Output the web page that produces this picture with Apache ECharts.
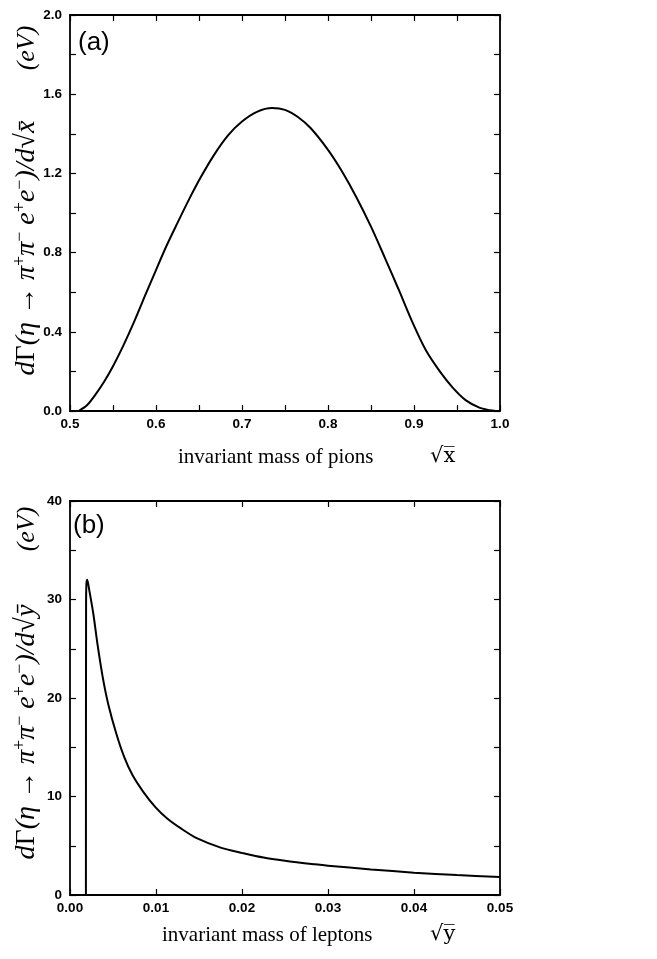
<!DOCTYPE html>
<html>
<head>
<meta charset="utf-8">
<script src="https://cdn.jsdelivr.net/npm/echarts@6/dist/echarts.min.js"></script>
<style>html,body{margin:0;padding:0;background:#fff}#c{width:657px;height:959px}</style>
</head>
<body>
<div id="c"></div>
<script>
// Panel (a): invariant mass of pions sqrt(x) vs dGamma/dsqrt(x) (eV)
const xA = [0.510,0.520,0.530,0.540,0.550,0.562,0.575,0.588,0.600,0.612,0.625,0.638,0.652,0.667,0.684,0.700,0.718,0.735,0.750,0.765,0.780,0.800,0.816,0.833,0.850,0.866,0.882,0.898,0.914,0.930,0.945,0.960,0.976,0.988,0.995];
const yA = [0,0.030,0.085,0.150,0.226,0.330,0.455,0.590,0.712,0.832,0.950,1.065,1.180,1.290,1.393,1.462,1.512,1.530,1.521,1.485,1.428,1.319,1.212,1.080,0.931,0.775,0.615,0.450,0.305,0.200,0.118,0.055,0.017,0.004,0];
// Panel (b): invariant mass of leptons sqrt(y) vs dGamma/dsqrt(y) (eV)
const xB = [0.00185,0.00187,0.00191,0.00200,0.00225,0.00272,0.00319,0.00381,0.00444,0.00538,0.00631,0.00725,0.0085,0.0099,0.0113,0.0129,0.0148,0.0176,0.0201,0.0225,0.025,0.0285,0.030,0.035,0.040,0.045,0.050];
const yB = [0,29.5,31.6,32,30.9,28.5,25.5,22.1,19.4,16.4,14.0,12.2,10.5,8.95,7.77,6.76,5.74,4.78,4.25,3.8,3.48,3.11,2.97,2.6,2.27,2.03,1.82];
const xTickDecimalsA = 1, yTickDecimalsA = 1, xTickDecimalsB = 2, yTickDecimalsB = 0;

const chart = echarts.init(document.getElementById('c'), null, {renderer:'canvas'});
const lineC = '#000';
function ax(o){
  return Object.assign({
    type:'value',
    axisLine:{show:true,onZero:false,lineStyle:{color:lineC,width:1.8}},
    axisTick:{show:true,inside:true,length:6,lineStyle:{color:lineC,width:1.2}},
    minorTick:{show:false},
    splitLine:{show:false},
    axisLabel:{show:false}
  }, o);
}
const lbl = (d, extra) => Object.assign({show:true,color:'#000',fontFamily:'Liberation Sans',fontWeight:'bold',fontSize:13.5,formatter:v=>v.toFixed(d)}, extra||{});
const minor = {show:true,splitNumber:2,length:6,lineStyle:{color:lineC,width:1.2}};

const pairsA = xA.map((x,i)=>[x,yA[i]]);
const pairsB = xB.map((x,i)=>[x,yB[i]]);

const serif = 'Liberation Serif';
const richY = {
  b:{font:'italic 28px "'+serif+'"',lineHeight:30,verticalAlign:'bottom'},
  u:{font:'28px "'+serif+'"',lineHeight:30,verticalAlign:'bottom'},
  s:{font:'18px "'+serif+'"',lineHeight:30,verticalAlign:'top'}
};
const option = {
  backgroundColor:'#fff',
  animation:false,
  grid:[
    {left:70,top:15,width:430,height:396},
    {left:70,top:501,width:430,height:394}
  ],
  xAxis:[
    ax({gridIndex:0,position:'bottom',min:0.5,max:1.0,interval:0.1,minorTick:minor,axisLabel:lbl(xTickDecimalsA,{margin:6})}),
    ax({gridIndex:0,position:'top',min:0.5,max:1.0,interval:0.1,minorTick:minor}),
    ax({gridIndex:1,position:'bottom',min:0,max:0.05,interval:0.01,axisLabel:lbl(xTickDecimalsB,{margin:6})}),
    ax({gridIndex:1,position:'top',min:0,max:0.05,interval:0.01})
  ],
  yAxis:[
    ax({gridIndex:0,position:'left',min:0,max:2.0,interval:0.4,minorTick:minor,axisLabel:lbl(yTickDecimalsA,{margin:8})}),
    ax({gridIndex:0,position:'right',min:0,max:2.0,interval:0.4,minorTick:minor}),
    ax({gridIndex:1,position:'left',min:0,max:40,interval:10,minorTick:minor,axisLabel:lbl(yTickDecimalsB,{margin:8})}),
    ax({gridIndex:1,position:'right',min:0,max:40,interval:10,minorTick:minor})
  ],
  series:[
    {type:'line',xAxisIndex:0,yAxisIndex:0,data:pairsA,showSymbol:false,smooth:0.3,lineStyle:{color:lineC,width:2},silent:true},
    {type:'line',xAxisIndex:2,yAxisIndex:2,data:pairsB,showSymbol:false,smooth:0.3,lineStyle:{color:lineC,width:2},silent:true}
  ],
  graphic:[
    {type:'text',left:78,top:30,style:{text:'(a)',font:'26px "Liberation Sans"',fill:'#000'}},
    {type:'text',left:73,top:513,style:{text:'(b)',font:'26px "Liberation Sans"',fill:'#000'}},
    {type:'text',x:178,y:457,style:{text:'invariant mass of pions',font:'21px "'+serif+'"',fill:'#000',verticalAlign:'middle'}},
    {type:'text',x:430,y:457,style:{text:'√x\u0305',font:'21px "DejaVu Serif"',fill:'#000',verticalAlign:'middle'}},
    {type:'text',x:162,y:935,style:{text:'invariant mass of leptons',font:'21px "'+serif+'"',fill:'#000',verticalAlign:'middle'}},
    {type:'text',x:430,y:935,style:{text:'√y\u0305',font:'21px "DejaVu Serif"',fill:'#000',verticalAlign:'middle'}},
    {type:'text',x:27,y:48,rotation:Math.PI/2,style:{text:'(eV)',font:'italic 26px "'+serif+'"',fill:'#000',align:'center',verticalAlign:'middle'}},
    {type:'text',x:27,y:529,rotation:Math.PI/2,style:{text:'(eV)',font:'italic 26px "'+serif+'"',fill:'#000',align:'center',verticalAlign:'middle'}},
    {type:'text',x:26,y:248,rotation:Math.PI/2,style:{
      text:'{b|d}{u|Γ}{b|(η → π}{s|+}{b|π}{s|−}{b| e}{s|+}{b|e}{s|−}{b|)/d√x̄}',
      align:'center',verticalAlign:'middle',fill:'#000',rich:richY
    }},
    {type:'text',x:26,y:732,rotation:Math.PI/2,style:{
      text:'{b|d}{u|Γ}{b|(η → π}{s|+}{b|π}{s|−}{b| e}{s|+}{b|e}{s|−}{b|)/d√ȳ}',
      align:'center',verticalAlign:'middle',fill:'#000',rich:richY
    }}
  ]
};
chart.setOption(option);
</script>
</body>
</html>
